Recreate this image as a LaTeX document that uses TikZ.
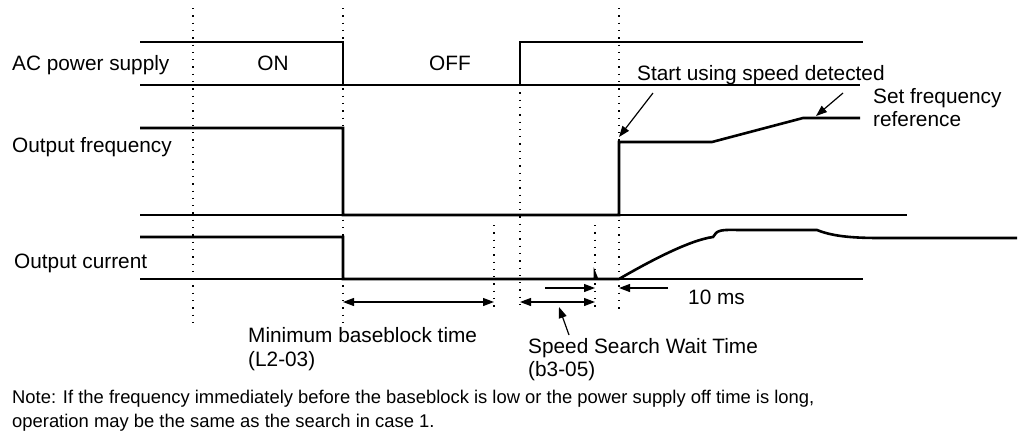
\documentclass[tikz,border=0pt]{standalone}
\usepackage{fontspec}
\setmainfont{Liberation Sans}
\usetikzlibrary{arrows.meta}
\begin{document}
\begin{tikzpicture}[x=1pt,y=-1pt,
  sig/.style={line width=2.6pt},
  baseln/.style={line width=1.2pt},
  dots/.style={line width=1.3pt, dash pattern=on 1.3pt off 6pt},
  lbl/.style={inner sep=0pt, anchor=base west, font=\fontsize{20.8}{24}\selectfont},
  clbl/.style={inner sep=0pt, anchor=base, font=\fontsize{20.8}{24}\selectfont},
  notetxt/.style={inner sep=0pt, anchor=base west, font=\fontsize{18.4}{22}\selectfont},
  arr/.style={line width=1.2pt, -{Triangle[length=11pt,width=8pt]}},
  dbl/.style={line width=1.2pt, {Triangle[length=11pt,width=8pt]}-{Triangle[length=11pt,width=8pt]}}]
\useasboundingbox (0,0) rectangle (1018,440);

% dotted time markers
\draw[dots] (193,8) -- (193,323);
\draw[dots] (343,8) -- (343,323);
\draw[dots] (494,225) -- (494,310);
\draw[dots] (520,85) -- (520,310);
\draw[dots] (595,225) -- (595,312);
\draw[dots] (619,8) -- (619,310);

% baselines
\draw[baseln] (140,85) -- (860,85);
\draw[baseln] (140,215) -- (907,215);
\draw[baseln] (140,279) -- (863,279);

% AC power supply
\draw[sig] (140,42) -- (343,42) -- (343,85) -- (520,85) -- (520,42) -- (863,42);
% Output frequency
\draw[sig] (140,128) -- (343,128) -- (343,215) -- (619,215) -- (619,142) -- (712,142) -- (803,118) -- (860,118);
% Output current
\draw[sig] (140,237) -- (343,237) -- (343,279) -- (595,279) -- (595,274) -- (597,279) -- (619,279)
  .. controls (650,261) and (690,240) .. (713,237) -- (716,233)
  .. controls (720,229) and (730,230) .. (742,230) -- (817,230)
  .. controls (832,236) and (850,238) .. (880,238) -- (1017,238);

% labels
\node[lbl] (ac) at (12,70) {AC power supply};
\node[clbl] (on) at (273,70) {ON};
\node[clbl] (off) at (450,70) {OFF};
\node[lbl] (of) at (12,152) {Output frequency};
\node[lbl] (oc) at (14,268) {Output current};
\node[lbl] (start) at (637,80) {Start using speed detected};
\node[lbl] (setf) at (873,103) {Set frequency};
\node[lbl] (ref) at (873,126) {reference};
\node[lbl] (tenms) at (688,304) {10 ms};
\node[lbl] (minbb) at (248,342) {Minimum baseblock time};
\node[lbl] (l203) at (248,366) {(L2-03)};
\node[lbl] (ssw) at (528,353) {Speed Search Wait Time};
\node[lbl] (b305) at (528,376) {(b3-05)};
\node[notetxt] (note1) at (12,403) {Note: If the frequency immediately before the baseblock is low or the power supply off time is long,};
\node[notetxt] (note2) at (12,427) {operation may be the same as the search in case 1.};

% pointer arrows
\coordinate (startA) at (653,93);
\coordinate (startB) at (619,137);
\draw[arr] (startA) -- (startB);
\coordinate (setA) at (843,93);
\coordinate (setB) at (816,116);
\draw[arr] (setA) -- (setB);
\coordinate (sswA) at (569,335);
\coordinate (sswB) at (559,307);
\draw[arr] (sswA) -- (sswB);

% 10 ms arrows
\coordinate (tA) at (545,288);
\coordinate (tB) at (595,288);
\coordinate (tC) at (668,288);
\coordinate (tD) at (619,288);
\draw[arr] (tA) -- (tB);
\draw[arr] (tC) -- (tD);

% duration arrows
\coordinate (mA) at (343,302);
\coordinate (mB) at (494,302);
\draw[dbl] (mA) -- (mB);
\coordinate (sA) at (520,302);
\coordinate (sB) at (595,302);
\draw[dbl] (sA) -- (sB);
\end{tikzpicture}
\end{document}
